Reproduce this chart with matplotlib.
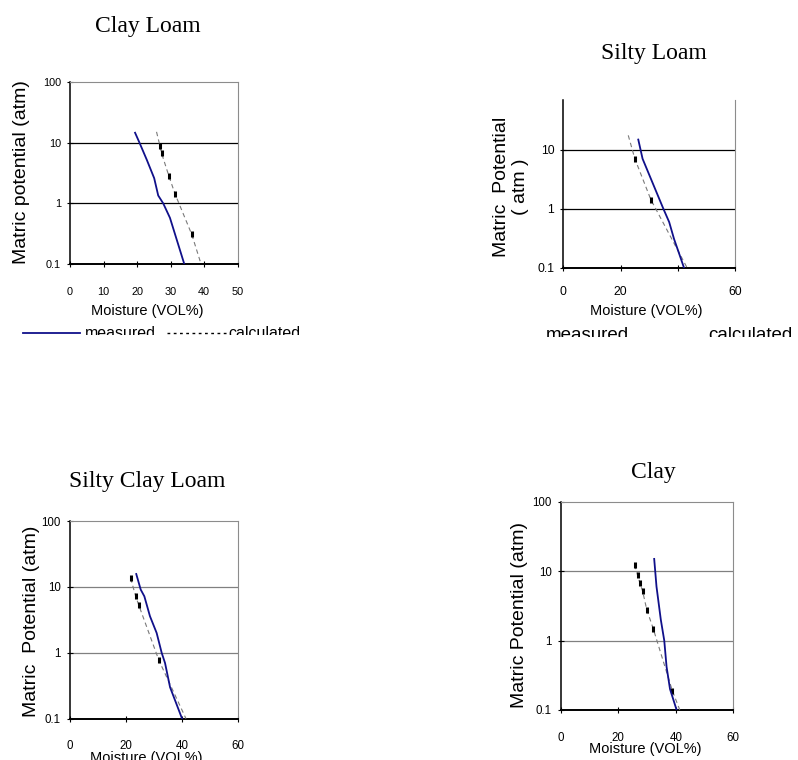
import matplotlib
matplotlib.use("Agg")
import matplotlib.pyplot as plt
from matplotlib.lines import Line2D

W, H = 798, 760

SANS = "Liberation Sans"
SERIF = "Liberation Serif"
NAVY = "#10108a"

# ---- data (moisture VOL%, matric potential atm)
titles = ["Clay Loam", "Silty Loam", "Silty Clay Loam", "Clay"]

cl_meas_x = [19.4, 20.7, 22.9, 25.1, 26.3, 27.8, 29.8, 34.1]
cl_meas_y = [14.5, 10.0, 5.2, 2.6, 1.35, 1.0, 0.58, 0.1]
cl_calc_x = [25.8, 26.8, 27.3, 29.5, 31.3, 36.3, 39.1]
cl_calc_y = [15.0, 8.9, 6.7, 2.8, 1.44, 0.31, 0.1]

sl_meas_x = [26.2, 27.7, 35.0, 37.0, 38.7, 40.4, 42.2]
sl_meas_y = [15.0, 7.1, 1.0, 0.6, 0.31, 0.18, 0.1]
sl_calc_x = [22.7, 25.0, 30.6, 43.3]
sl_calc_y = [17.7, 7.1, 1.44, 0.1]

scl_meas_x = [23.7, 25.3, 26.6, 28.6, 31.0, 32.8, 34.0, 35.8, 40.1]
scl_meas_y = [15.7, 9.1, 7.2, 3.6, 2.0, 1.0, 0.7, 0.3, 0.1]
scl_calc_x = [21.7, 23.5, 24.6, 31.8, 41.5]
scl_calc_y = [13.5, 7.2, 5.3, 0.77, 0.1]

c_meas_x = [32.5, 33.3, 34.8, 36.0, 36.8, 38.0, 40.3]
c_meas_y = [15.0, 6.0, 2.0, 1.0, 0.42, 0.2, 0.1]
c_calc_x = [25.7, 26.7, 27.5, 28.5, 29.9, 32.2, 38.8, 41.4]
c_calc_y = [12.3, 8.8, 6.8, 5.1, 2.8, 1.47, 0.19, 0.1]

panels = [
    dict(box=(70, 81.7, 237.7, 264.3), ytop=100, xmax=50, xticks=[0, 10, 20, 30, 40, 50],
         xlabels=["0", "10", "20", "30", "40", "50"], yticks=[0.1, 1, 10, 100],
         grid="black", tsize=7.8, xpad=13.5, top_spine=True,
         meas=(cl_meas_x, cl_meas_y), calc=(cl_calc_x, cl_calc_y), marks=[1, 2, 3, 4, 5],
         title=(147.5, 32), ylabel="Matric potential (atm)", ylab_pos=(22, 172.5),
         xlab_pos=(147, 315)),
    dict(box=(563.3, 100, 735, 268), ytop=70.3, xmax=60, xticks=[0, 20, 40, 60],
         xlabels=["0", "20", "", "60"], yticks=[0.1, 1, 10],
         grid="black", tsize=8.8, xpad=10.5, top_spine=False,
         meas=(sl_meas_x, sl_meas_y), calc=(sl_calc_x, sl_calc_y), marks=[1, 2],
         title=(654, 59), ylabel="Matric  Potential\n( atm )", ylab_pos=(511, 186.5),
         xlab_pos=(646, 315)),
    dict(box=(70, 521, 237.7, 718.7), ytop=100, xmax=60, xticks=[0, 20, 40, 60],
         xlabels=["0", "20", "40", "60"], yticks=[0.1, 1, 10, 100],
         grid="#808080", tsize=8.3, xpad=13, top_spine=True,
         meas=(scl_meas_x, scl_meas_y), calc=(scl_calc_x, scl_calc_y), marks=[0, 1, 2, 3],
         title=(147.5, 486.7), ylabel="Matric  Potential (atm)", ylab_pos=(32, 621),
         xlab_pos=(146, 762)),
    dict(box=(560.7, 501.7, 733.3, 710), ytop=100, xmax=60, xticks=[0, 20, 40, 60],
         xlabels=["0", "20", "40", "60"], yticks=[0.1, 1, 10, 100],
         grid="#808080", tsize=8.3, xpad=13, top_spine=True,
         meas=(c_meas_x, c_meas_y), calc=(c_calc_x, c_calc_y), marks=[0, 1, 2, 3, 4, 5, 6],
         title=(653.5, 478), ylabel="Matric Potential (atm)", ylab_pos=(520, 615),
         xlab_pos=(645, 753)),
]


def fx(x):
    return x / W


def fy(y):
    return 1 - y / H


fig = plt.figure(figsize=(W / 100, H / 100), dpi=100)

for name, p in zip(titles, panels):
    l, t, r, b = p["box"]
    ax = fig.add_axes([fx(l), fy(b), fx(r) - fx(l), (b - t) / H])
    ax.set_yscale("log")
    ax.set_xlim(0, p["xmax"])
    ax.set_ylim(0.1, p["ytop"])

    ax.plot(*p["meas"], color=NAVY, lw=1.3, zorder=4)
    ax.plot(*p["calc"], color="#7a7a7a", lw=0.8, ls=(0, (4, 3)),
            marker="|", markevery=p["marks"], ms=4, mew=2.2, mec="black", zorder=3)

    for v in p["yticks"]:
        if 0.1 < v < p["ytop"] and v != 100:
            ax.axhline(v, color=p["grid"], lw=0.9, zorder=1)

    ax.set_xticks(p["xticks"])
    ax.set_xticklabels(p["xlabels"])
    ax.set_yticks(p["yticks"])
    ax.set_yticklabels([f"{v:g}" for v in p["yticks"]])
    ax.yaxis.set_minor_locator(matplotlib.ticker.NullLocator())
    ax.tick_params(axis="x", direction="inout", length=5, width=0.8, pad=p["xpad"])
    ax.tick_params(axis="y", direction="inout", length=5, width=0.8, pad=4)
    for lab in ax.get_xticklabels() + ax.get_yticklabels():
        lab.set_fontfamily(SANS)
        lab.set_fontsize(p["tsize"])

    ax.spines["left"].set_linewidth(1.1)
    ax.spines["bottom"].set_linewidth(1.4)
    ax.spines["right"].set_color("#8c8c8c")
    ax.spines["top"].set_color("#8c8c8c")
    ax.spines["top"].set_visible(p["top_spine"])

    fig.text(fx(p["title"][0]), fy(p["title"][1]), name, family=SERIF, fontsize=17,
             ha="center", va="baseline")
    fig.text(fx(p["ylab_pos"][0]), fy(p["ylab_pos"][1]), p["ylabel"], family=SANS,
             fontsize=14, rotation=90, ha="center", va="center", multialignment="center")
    fig.text(fx(p["xlab_pos"][0]), fy(p["xlab_pos"][1]), "Moisture (VOL%)", family=SANS,
             fontsize=10.5, ha="center", va="baseline")

# legends under the top charts, cut off along the bottom edge
leg1 = fig.add_axes([0, fy(335.2), fx(330), (335.2 - 318) / H])
leg1.axis("off")
leg1.add_line(Line2D([fx(23), fx(80)], [fy(333), fy(333)], transform=fig.transFigure,
                     color=NAVY, lw=1.3))
leg1.add_line(Line2D([fx(167), fx(227)], [fy(333), fy(333)], transform=fig.transFigure,
                     color="black", lw=1.0, ls=(0, (2, 2.5))))
leg1.text(fx(85), fy(337.5), "measured", transform=fig.transFigure, family=SANS, fontsize=11.5,
          va="baseline", clip_on=True)
leg1.text(fx(228), fy(337.5), "calculated", transform=fig.transFigure, family=SANS, fontsize=11.5,
          va="baseline", clip_on=True)

leg2 = fig.add_axes([fx(470), fy(336.7), fx(798) - fx(470), (336.7 - 318) / H])
leg2.axis("off")
leg2.text(fx(546), fy(340.5), "measured", transform=fig.transFigure, family=SANS, fontsize=13.5,
          va="baseline", clip_on=True)
leg2.text(fx(708), fy(340.5), "calculated", transform=fig.transFigure, family=SANS, fontsize=13.5,
          va="baseline", clip_on=True)

fig.savefig("out.png", dpi=100)
